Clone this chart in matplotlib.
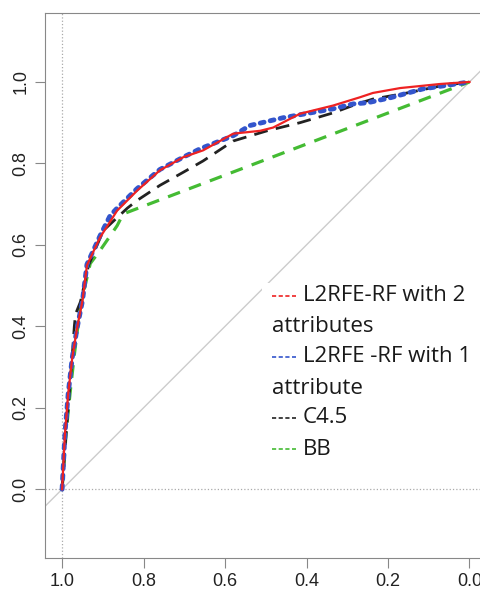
import matplotlib
matplotlib.use("Agg")
import matplotlib.pyplot as plt
from matplotlib.patches import Rectangle
from matplotlib.lines import Line2D

# specificity (x, reversed) and sensitivity (y)
rf2_x = [1.0, 0.993, 0.985, 0.975, 0.963, 0.95, 0.939, 0.907, 0.865, 0.816, 0.76, 0.703,
         0.654, 0.58, 0.514, 0.482, 0.416, 0.335, 0.27, 0.237, 0.17, 0.072, 0.0]
rf2_y = [0.0, 0.137, 0.235, 0.324, 0.397, 0.463, 0.55, 0.618, 0.684, 0.733, 0.783, 0.815,
         0.832, 0.873, 0.88, 0.888, 0.922, 0.942, 0.962, 0.973, 0.985, 0.995, 1.0]

rf1_x = [1.0, 0.993, 0.985, 0.975, 0.963, 0.95, 0.939, 0.907, 0.882, 0.865, 0.816, 0.76,
         0.703, 0.661, 0.58, 0.539, 0.458, 0.335, 0.286, 0.25, 0.195, 0.114, 0.0]
rf1_y = [0.0, 0.137, 0.235, 0.324, 0.397, 0.463, 0.552, 0.622, 0.672, 0.69, 0.738, 0.785,
         0.815, 0.836, 0.868, 0.893, 0.912, 0.934, 0.946, 0.949, 0.961, 0.983, 1.0]

c45_x = [1.0, 0.99, 0.982, 0.975, 0.97, 0.967, 0.955, 0.935, 0.899, 0.84, 0.816, 0.76,
         0.703, 0.654, 0.58, 0.497, 0.416, 0.335, 0.276, 0.237, 0.153, 0.072, 0.0]
c45_y = [0.0, 0.14, 0.24, 0.33, 0.40, 0.43, 0.46, 0.55, 0.635, 0.69, 0.709, 0.746,
         0.778, 0.806, 0.855, 0.88, 0.90, 0.924, 0.946, 0.958, 0.973, 0.99, 1.0]

bb_x = [1.0, 0.99, 0.98, 0.97, 0.955, 0.931, 0.907, 0.88, 0.865, 0.85, 0.0]
bb_y = [0.0, 0.14, 0.24, 0.33, 0.45, 0.554, 0.586, 0.625, 0.647, 0.676, 1.0]

ticks = [0.0, 0.2, 0.4, 0.6, 0.8, 1.0]
tick_labels = ["0.0", "0.2", "0.4", "0.6", "0.8", "1.0"]

legend_rows = [
    ("L2RFE-RF with 2", "#ee2222"),
    ("attributes", None),
    ("L2RFE -RF with 1", "#3355cc"),
    ("attribute", None),
    ("C4.5", "#222222"),
    ("BB", "#44bb33"),
]

fig = plt.figure(figsize=(4.8, 5.91), dpi=100)
ax = fig.add_axes([0.09375, 0.0558, 0.92, 0.922])

ax.set_xlim(1.042, -0.042)
ax.set_ylim(-0.169, 1.169)

ax.axvline(1.0, color="#aaaaaa", linestyle=":", lw=0.9)
ax.axhline(0.0, color="#aaaaaa", linestyle=":", lw=0.9)
ax.axline((1, 0), (0, 1), color="#cccccc", lw=1.0)

ax.plot(bb_x, bb_y, color="#44bb33", lw=2.3, linestyle=(0, (4, 3)))
ax.plot(c45_x, c45_y, color="#222222", lw=2.0, linestyle=(0, (5, 3)))
ax.plot(rf1_x, rf1_y, color="#3355cc", lw=3.5, linestyle=(0, (0.8, 1.3)),
        dash_capstyle="round")
ax.plot(rf2_x, rf2_y, color="#ee2222", lw=1.6)

for s in ax.spines.values():
    s.set_color("#888888")
ax.set_xticks(ticks)
ax.set_xticklabels(tick_labels)
ax.set_yticks(ticks)
ax.set_yticklabels(tick_labels, rotation=90, va="center")
ax.tick_params(length=7, color="#888888", labelsize=13, labelcolor="#222222", pad=4)
for lab in ax.get_xticklabels() + ax.get_yticklabels():
    lab.set_family("Liberation Sans")

# legend drawn by hand so that wrapped lines start under the handle
ax.add_patch(Rectangle((0.491, 0.161), 0.51, 0.344, transform=ax.transAxes,
                       facecolor="white", edgecolor="none", zorder=5))
row_y = [0.481, 0.424, 0.369, 0.312, 0.257, 0.200]
for (txt, col), yy in zip(legend_rows, row_y):
    if col is None:
        ax.text(0.514, yy, txt, transform=ax.transAxes, fontsize=16,
                family="Open Sans", color="#1a1a1a", va="center", zorder=6)
    else:
        ax.add_line(Line2D([0.514, 0.568], [yy, yy], transform=ax.transAxes,
                           color=col, lw=1.2, linestyle=(0, (2.5, 1.5)), zorder=6))
        ax.text(0.584, yy, txt, transform=ax.transAxes, fontsize=16,
                family="Open Sans", color="#1a1a1a", va="center", zorder=6)

fig.savefig("out.png", dpi=100)
